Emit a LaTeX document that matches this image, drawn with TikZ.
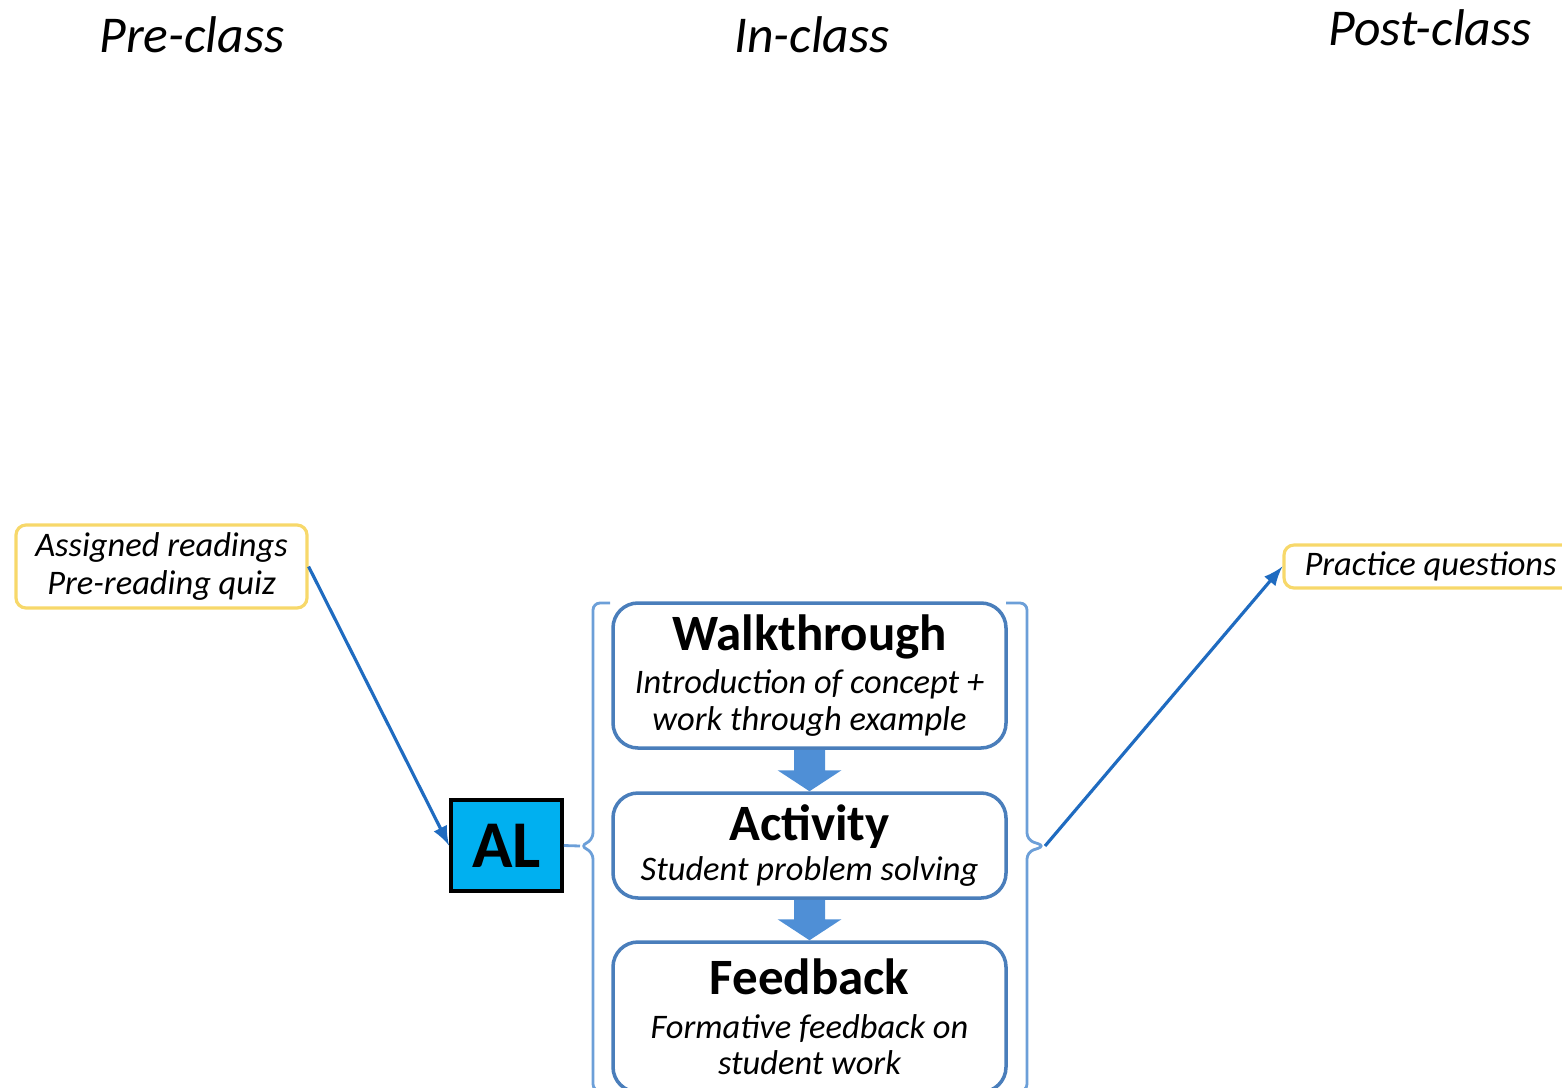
\documentclass[tikz,border=0pt]{standalone}
\usepackage{fontspec}
\setmainfont{Carlito}
\usepackage{xcolor}
\usetikzlibrary{calc,arrows}

\definecolor{boxblue}{HTML}{4A7EBB}
\definecolor{arrowblue}{HTML}{4F8FD6}
\definecolor{braceblue}{HTML}{6C9FD8}
\definecolor{linkblue}{HTML}{1F6BC0}
\definecolor{noteyellow}{HTML}{F7D86A}
\definecolor{alcyan}{HTML}{00B0F0}

\newcommand{\stagetitle}{\fontsize{14.5}{16}\selectfont\bfseries\upshape}

\tikzset{
  phase/.style={font=\fontsize{14.7}{16}\selectfont\itshape},
  note/.style={draw=noteyellow, line width=0.9pt, rounded corners=0.1cm, fill=white,
    align=center, inner sep=0pt, font=\fontsize{9.8}{10.8}\selectfont\itshape},
  stage/.style={draw=boxblue, line width=1pt, rounded corners=0.25cm, fill=white,
    minimum width=3.93cm, align=center, inner sep=0pt, font=\fontsize{9.8}{10.4}\selectfont\itshape},
  bracket/.style={draw=braceblue, line width=0.8pt, rounded corners=2pt},
  link/.style={draw=linkblue, line width=0.9pt, >=latex, ->}
}

\begin{document}
\begin{tikzpicture}
\useasboundingbox (0,0) rectangle (15.62,10.87);
\clip (0,0) rectangle (15.62,10.87);

% phase headings
\node[phase] (pre) at (1.92,10.52) {Pre-class};
\node[phase] (in) at (8.12,10.52) {In-class};
\node[phase] (post) at (14.30,10.59) {Post-class};

% notes
\node[note, minimum width=2.91cm, minimum height=0.83cm] (reading) at (1.615,5.205)
  {Assigned readings\\Pre-reading quiz};
\node[note, minimum width=2.93cm, minimum height=0.43cm] (practice) at (14.305,5.205)
  {Practice questions};

% AL box
\node[draw=black, line width=1.1pt, fill=alcyan, minimum width=1.11cm, minimum height=0.91cm,
  inner sep=0pt, font=\fontsize{19}{20}\selectfont\bfseries] (al) at (5.065,2.415) {AL};

% in-class stages
\node[stage, minimum height=1.45cm] (walk) at (8.095,4.115)
  {{\stagetitle Walkthrough}\\[2pt]Introduction of concept +\\work through example};
\node[stage, minimum height=1.05cm] (act) at (8.095,2.415)
  {{\stagetitle Activity}\\[1pt]Student problem solving};
\node[stage, minimum height=1.50cm] (feed) at (8.095,0.70)
  {{\stagetitle Feedback}\\[2pt]Formative feedback on\\student work};

% block arrows between stages
\fill[arrowblue] ($(walk.south)+(-0.155,0)$) -- ($(act.north)+(-0.155,0.21)$) -- ($(act.north)+(-0.32,0.21)$)
  -- (act.north) -- ($(act.north)+(0.32,0.21)$) -- ($(act.north)+(0.155,0.21)$) -- ($(walk.south)+(0.155,0)$) -- cycle;
\fill[arrowblue] ($(act.south)+(-0.155,0)$) -- ($(feed.north)+(-0.155,0.21)$) -- ($(feed.north)+(-0.32,0.21)$)
  -- (feed.north) -- ($(feed.north)+(0.32,0.21)$) -- ($(feed.north)+(0.155,0.21)$) -- ($(act.south)+(0.155,0)$) -- cycle;

% brackets
\coordinate (lbrace) at (5.80,2.41);
\coordinate (rbrace) at (10.45,2.41);
\draw[bracket] (6.10,4.84) -- (5.93,4.84) -- (5.93,2.47) -- (lbrace) -- (5.93,2.35) -- (5.93,-0.04) -- (6.10,-0.04);
\draw[bracket] (10.06,4.84) -- (10.27,4.84) -- (10.27,2.47) -- (rbrace) -- (10.27,2.35) -- (10.27,-0.04) -- (10.06,-0.04);

% connectors
\draw[link] (reading.east) -- (al.west);
\draw[draw=braceblue, line width=0.8pt] (al.east) -- (lbrace);
\draw[link] (rbrace) -- (practice.west);
\end{tikzpicture}
\end{document}
